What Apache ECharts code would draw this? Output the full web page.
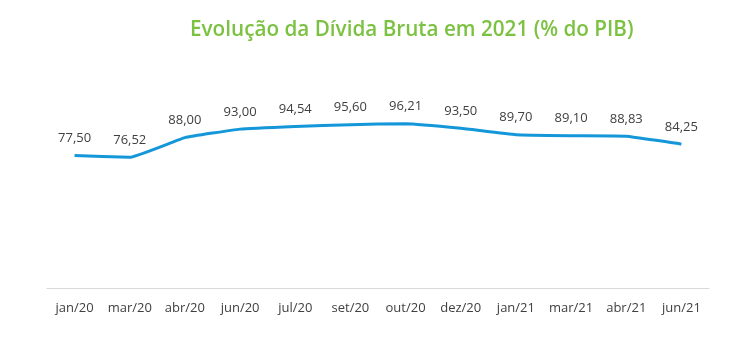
<!DOCTYPE html>
<html><head><meta charset="utf-8">
<script src="https://cdn.jsdelivr.net/npm/echarts@6/dist/echarts.min.js"></script>
<style>html,body{margin:0;padding:0;background:#fff}#c{width:751px;height:356px}</style>
</head><body><div id="c"></div>
<script>
var categories = ['jan/20','mar/20','abr/20','jun/20','jul/20','set/20','out/20','dez/20','jan/21','mar/21','abr/21','jun/21'];
var values = [77.50, 76.52, 88.00, 93.00, 94.54, 95.60, 96.21, 93.50, 89.70, 89.10, 88.83, 84.25];
var titleText = 'Evolução da Dívida Bruta em 2021 (% do PIB)';
var chart = echarts.init(document.getElementById('c'));
chart.setOption({
  animation: false,
  title: {text: titleText, left: 185, top: 15, textStyle: {color: '#7cc242', fontSize: 20.7, fontWeight: 600, fontFamily: 'Open Sans'}},
  grid: {left: 47, right: 42, top: 83, bottom: 68},
  xAxis: {type: 'category', data: categories, boundaryGap: true,
    axisLine: {lineStyle: {color: '#d9d9d9'}}, axisTick: {show: false},
    axisLabel: {interval: 0, color: '#404040', fontSize: 13, fontFamily: 'Open Sans', margin: 14}},
  yAxis: {type: 'value', min: 0, max: 120, show: false, splitLine: {show: false}},
  series: [{type: 'line', data: values, smooth: 0.1, symbol: 'circle', symbolSize: 1, showSymbol: true,
    itemStyle: {color: 'rgba(0,0,0,0)', borderWidth: 0},
    lineStyle: {color: '#1497d8', width: 3},
    labelLayout: {hideOverlap: false},
    label: {show: true, position: 'top', distance: 10, color: '#404040', fontSize: 13, fontFamily: 'Open Sans',
      formatter: function(p){return p.value.toFixed(2).replace('.', ',');}}}]
});
</script></body></html>
